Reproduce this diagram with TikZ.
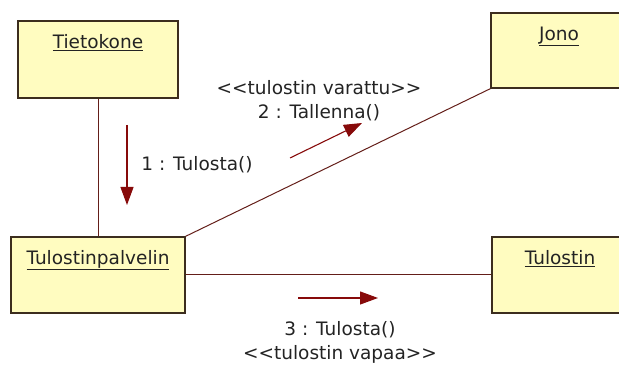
\documentclass[tikz,border=0pt]{standalone}
\usepackage{fontspec}
\setmainfont{DejaVu Sans}
\usetikzlibrary{positioning,arrows.meta}

\definecolor{luokkafill}{RGB}{255,252,192}
\definecolor{luokkadraw}{RGB}{60,45,30}
\definecolor{yhteys}{RGB}{100,30,25}
\definecolor{viesti}{RGB}{135,10,10}
\definecolor{teksti}{RGB}{35,35,35}

\newcommand{\stereo}[1]{<\kern0pt<#1>\kern0pt>}

\begin{document}
\begin{tikzpicture}[
    x=1pt, y=1pt,
    every node/.style={font=\fontsize{18.5}{22}\selectfont, text=teksti},
    luokka/.style={draw=luokkadraw, fill=luokkafill, line width=1.4pt, inner sep=0pt},
    nimi/.style={inner sep=0pt, anchor=base},
    yhteys/.style={draw=yhteys, line width=1pt},
    viesti/.style={draw=viesti, line width=1.1pt, -{Triangle[length=18pt,width=13pt]}},
    kuvaus/.style={inner sep=1pt}
]
\useasboundingbox (0,0) rectangle (619,371);

\node[luokka, minimum width=160pt, minimum height=77pt] (tietokone) at (98,311.5) {};
\node[luokka, minimum width=174pt, minimum height=76pt] (palvelin) at (98,96) {};
\node[luokka, minimum width=136pt, minimum height=75pt] (jono) at (559,320.5) {};
\node[luokka, minimum width=136pt, minimum height=76pt] (tulostin) at (560,96) {};

\node[nimi, below=28pt of tietokone.north, anchor=base] {\underline{Tietokone}};
\node[nimi, below=28pt of palvelin.north, anchor=base] {\underline{Tulostinpalvelin}};
\node[nimi, below=28pt of jono.north, anchor=base] {\underline{Jono}};
\node[nimi, below=28pt of tulostin.north, anchor=base] {\underline{Tulostin}};

\draw[yhteys] (tietokone.south) -- (palvelin.north);
\draw[yhteys] (palvelin.north east) -- (jono.south west);
\draw[yhteys] (palvelin.east) -- (tulostin.west);

\coordinate (m1a) at (127,246);
\coordinate (m1b) at (127,166);
\coordinate (m2a) at (290,213);
\coordinate (m2b) at (362,248);
\coordinate (m3a) at (298,73);
\coordinate (m3b) at (378,73);

\draw[viesti] (m1a) -- (m1b);
\draw[viesti] (m2a) -- (m2b);
\draw[viesti] (m3a) -- (m3b);

\node[kuvaus] (v1) at (197,206) {1 : Tulosta()};
\node[kuvaus] (v2) at (319,258) {2 : Tallenna()};
\node[kuvaus, above=8pt of v2] {\stereo{tulostin varattu}};
\node[kuvaus] (v3) at (340,41) {3 : Tulosta()};
\node[kuvaus, below=5pt of v3] {\stereo{tulostin vapaa}};
\end{tikzpicture}
\end{document}
